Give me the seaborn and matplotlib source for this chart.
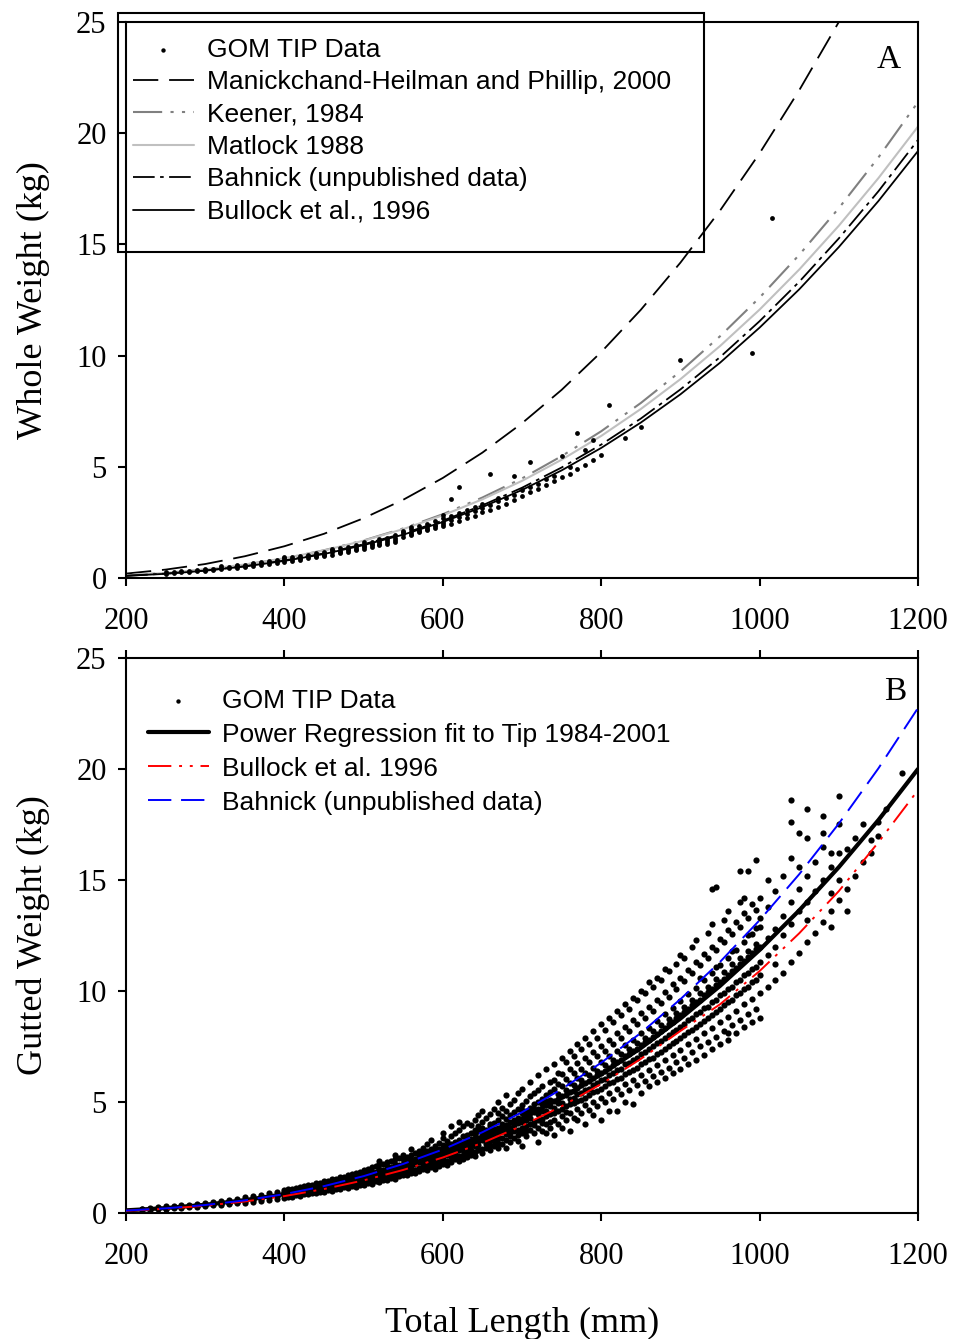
import pandas as pd
import matplotlib
matplotlib.use("Agg")
import matplotlib.pyplot as plt
from matplotlib.patches import Rectangle
import seaborn as sns

# ----------------------------- data -----------------------------

curve_len = [200, 250, 300, 350, 400, 450, 500, 550, 600, 650, 700,
             750, 800, 850, 900, 950, 1000, 1050, 1100, 1150, 1200]

# panel A : whole weight (kg)
manick_2000 = [0.20, 0.38, 0.63, 0.98, 1.43, 1.99, 2.69, 3.52, 4.50, 5.64, 6.96,
               8.46, 10.16, 12.06, 14.18, 16.52, 19.10, 21.93, 25.0, 28.4, 32.0]
keener_1984 = [0.12, 0.23, 0.38, 0.60, 0.88, 1.25, 1.69, 2.23, 2.87, 3.62, 4.48,
               5.48, 6.60, 7.87, 9.29, 10.87, 12.61, 14.53, 16.63, 18.91, 21.4]
matlock_1988 = [0.12, 0.23, 0.39, 0.61, 0.89, 1.24, 1.68, 2.20, 2.82, 3.54, 4.37,
                5.32, 6.39, 7.60, 8.94, 10.43, 12.07, 13.87, 15.84, 17.98, 20.3]
bahnick_a = [0.10, 0.20, 0.34, 0.53, 0.79, 1.11, 1.52, 2.00, 2.58, 3.27, 4.06,
             4.97, 6.00, 7.17, 8.48, 9.93, 11.55, 13.32, 15.27, 17.39, 19.7]
bullock_a = [0.10, 0.19, 0.33, 0.52, 0.77, 1.08, 1.48, 1.95, 2.52, 3.19, 3.96,
             4.84, 5.85, 6.99, 8.26, 9.68, 11.26, 12.98, 14.88, 16.95, 19.2]

# panel B : gutted weight (kg)
power_fit = [0.12, 0.22, 0.37, 0.58, 0.85, 1.20, 1.62, 2.13, 2.74, 3.44, 4.26,
             5.19, 6.25, 7.43, 8.76, 10.23, 11.85, 13.63, 15.58, 17.70, 20.0]
bullock_b = [0.10, 0.19, 0.33, 0.52, 0.76, 1.08, 1.47, 1.94, 2.50, 3.16, 3.93,
             4.81, 5.81, 6.94, 8.20, 9.40, 10.90, 12.60, 14.50, 16.70, 19.05]
bahnick_b = [0.11, 0.21, 0.36, 0.57, 0.85, 1.21, 1.66, 2.21, 2.86, 3.64, 4.54,
             5.58, 6.77, 8.11, 9.63, 11.31, 13.19, 15.26, 17.54, 20.03, 22.75]

# GOM TIP observations, panel A (length bins, weights in each bin)
tip_a_len = [250, 260, 270, 280, 290, 300, 310, 320, 330, 340, 350, 360, 370, 380, 390,
             400, 410, 420, 430, 440, 450, 460, 470, 480, 490, 500, 510, 520, 530, 540,
             550, 560, 570, 580, 590, 600, 610, 620, 630, 640, 650, 660, 670, 680, 690,
             700, 710, 720, 730, 740, 750, 760, 770, 780, 790, 800, 810, 830, 850, 900,
             990, 1015]
tip_a_wt = [[0.2, 0.25], [0.22, 0.27], [0.25, 0.3], [0.28, 0.33], [0.3, 0.36],
            [0.33, 0.38, 0.42], [0.36, 0.42], [0.4, 0.46, 0.52], [0.43, 0.5], [0.47, 0.54, 0.6],
            [0.5, 0.58, 0.55], [0.55, 0.62, 0.68], [0.6, 0.66, 0.72], [0.64, 0.7, 0.78], [0.68, 0.76, 0.83],
            [0.73, 0.8, 0.88, 0.95], [0.78, 0.86, 0.93], [0.83, 0.92, 1.0, 0.88], [0.88, 0.97, 1.05],
            [0.94, 1.03, 1.12, 0.99], [1.0, 1.1, 1.18, 1.05], [1.05, 1.15, 1.25, 1.32],
            [1.12, 1.22, 1.33, 1.18], [1.18, 1.3, 1.4, 1.25], [1.25, 1.38, 1.48, 1.32],
            [1.32, 1.45, 1.55, 1.4, 1.62], [1.4, 1.52, 1.64, 1.48], [1.48, 1.6, 1.74, 1.55, 1.68],
            [1.55, 1.7, 1.82, 1.62], [1.63, 1.78, 1.92, 1.72], [1.85, 1.98, 2.12, 2.05],
            [1.95, 2.08, 2.22, 2.0, 2.3], [2.05, 2.18, 2.32, 2.12], [2.15, 2.28, 2.45, 2.22],
            [2.25, 2.4, 2.55, 2.35], [2.35, 2.5, 2.7, 2.45, 2.85], [2.45, 2.62, 2.8, 3.55],
            [2.55, 2.75, 2.92, 4.1], [2.68, 2.88, 3.05], [2.8, 3.0, 3.2], [2.95, 3.15, 3.35],
            [3.08, 3.3, 4.7], [3.2, 3.45, 3.6], [3.35, 3.6], [3.5, 3.75, 4.6], [3.7, 3.95],
            [3.85, 4.1, 5.2], [4.0, 4.25], [4.2, 4.45], [4.35, 4.6], [4.55, 5.5], [4.7, 5.0],
            [4.9, 6.5], [5.1, 5.75], [5.3, 6.2], [5.55], [7.8], [6.3], [6.8], [9.8], [10.1], [16.2]]

# GOM TIP observations, panel B : small fish and the large tail
tip_b_len = [220, 230, 240, 250, 260, 270, 280, 290, 300, 310, 320, 330, 340, 350, 360,
             370, 380, 390, 400, 410, 420, 430, 440, 450, 460, 470, 480, 490, 500, 510,
             520, 530, 540,
             1010, 1020, 1030, 1040, 1050, 1060, 1070, 1080, 1090, 1100,
             1110, 1120, 1130, 1140, 1150, 1160, 1180]
tip_b_wt = [
    [0.12, 0.17, 0.2], [0.15, 0.19, 0.22], [0.16, 0.21, 0.26], [0.18, 0.24, 0.3, 0.2],
    [0.21, 0.26, 0.31], [0.24, 0.29, 0.34, 0.27], [0.26, 0.32, 0.37, 0.3], [0.28, 0.35, 0.4, 0.33],
    [0.3, 0.36, 0.42, 0.39, 0.47], [0.34, 0.4, 0.45, 0.5], [0.37, 0.43, 0.48, 0.55, 0.41],
    [0.4, 0.47, 0.52, 0.6, 0.45], [0.44, 0.51, 0.56, 0.64, 0.5], [0.47, 0.55, 0.6, 0.7, 0.58],
    [0.5, 0.6, 0.66, 0.75, 0.62], [0.55, 0.64, 0.71, 0.8, 0.68], [0.6, 0.7, 0.76, 0.88, 0.72],
    [0.64, 0.75, 0.82, 0.95, 0.78], [0.68, 0.8, 0.88, 1.02, 0.85, 0.93], [0.72, 0.86, 0.95, 1.1, 0.9],
    [0.78, 0.92, 1.02, 1.18, 0.97, 1.08], [0.84, 0.99, 1.1, 1.26, 1.04],
    [0.9, 1.05, 1.16, 1.35, 1.12, 1.22], [0.95, 1.1, 1.22, 1.42, 1.18, 1.3],
    [1.0, 1.18, 1.3, 1.52, 1.25, 1.4], [1.06, 1.26, 1.38, 1.62, 1.33, 1.48],
    [1.12, 1.33, 1.47, 1.7, 1.4, 1.58, 1.25], [1.18, 1.4, 1.56, 1.82, 1.5, 1.66, 1.3],
    [1.25, 1.48, 1.65, 1.92, 1.58, 1.76, 1.38], [1.32, 1.58, 1.75, 2.05, 1.68, 1.86, 1.45],
    [1.4, 1.66, 1.85, 2.2, 1.78, 1.98, 1.55, 2.35], [1.48, 1.76, 1.95, 2.3, 1.88, 2.1, 1.62],
    [1.55, 1.85, 2.06, 2.42, 1.98, 2.2, 1.7, 2.6],
    [10.2, 11.6, 12.4, 13.8, 15.0], [10.5, 12.0, 12.8, 14.5, 11.2], [10.8, 12.5, 13.4, 15.2],
    [11.3, 13.0, 14.0, 16.0, 18.6, 17.6], [11.7, 13.6, 14.6, 15.6, 17.1],
    [12.2, 14.0, 15.2, 13.2, 16.9, 18.2], [12.6, 14.5, 15.8], [13.1, 15.0, 16.5, 17.1, 17.9],
    [13.6, 15.6, 14.4, 12.9, 16.2], [14.1, 16.2, 15.0, 17.5, 18.8], [14.6, 16.4, 13.6],
    [15.2, 16.9], [15.8, 17.5], [16.2, 16.8], [17.0, 17.6], [18.2], [19.8]]

# panel B, between the 10 mm bins above
tip_b_len2 = [405, 415, 425, 435, 445, 455, 465, 475, 485, 495, 505, 515, 525, 535, 545]
tip_b_wt2 = [
    [0.74, 0.84, 0.96, 1.06], [0.8, 0.9, 1.0, 1.12], [0.86, 0.96, 1.08, 1.2],
    [0.9, 1.02, 1.14, 1.28, 0.98], [0.96, 1.1, 1.22, 1.36, 1.05], [1.02, 1.16, 1.3, 1.45, 1.1],
    [1.08, 1.24, 1.38, 1.55, 1.18], [1.15, 1.32, 1.46, 1.64, 1.24], [1.2, 1.38, 1.55, 1.74, 1.32],
    [1.28, 1.46, 1.64, 1.86, 1.4], [1.35, 1.55, 1.74, 1.98, 1.48], [1.42, 1.64, 1.85, 2.1, 1.56],
    [1.5, 1.72, 1.95, 2.22, 1.65], [1.58, 1.82, 2.05, 2.35, 1.74], [1.65, 1.92, 2.16, 2.48, 1.82]]

# panel B, the dense middle of the cloud (5 mm bins)
tip_b_len_mid = [550, 555, 560, 565, 570, 575, 580, 585, 590, 595, 600, 605, 610, 615, 620,
                 625, 630, 635, 640, 645, 650, 655, 660, 665, 670, 675, 680, 685, 690, 695,
                 700, 705, 710, 715, 720, 725, 730, 735, 740, 745, 750, 755, 760, 765, 770,
                 775, 780, 785, 790, 795, 800, 805, 810, 815, 820, 825, 830, 835, 840, 845,
                 850, 855, 860, 865, 870, 875, 880, 885, 890, 895, 900, 905, 910, 915, 920,
                 925, 930, 935, 940, 945, 950, 955, 960, 965, 970, 975, 980, 985, 990, 995, 1000]
tip_b_wt_mid = [
    [1.7, 2.0, 2.22, 1.88, 2.41, 2.1, 2.6], [1.85, 2.3, 2.05, 2.5, 1.72, 2.18],
    [2.12, 1.78, 2.38, 2.6, 2.0, 2.27, 2.9], [1.95, 2.45, 2.2, 2.72, 2.33, 1.82],
    [2.5, 2.02, 2.28, 2.8, 1.9, 2.4, 2.62], [2.15, 2.55, 1.98, 2.38, 2.95, 2.7],
    [2.3, 1.92, 2.62, 2.45, 3.1, 2.12, 2.8], [2.05, 2.7, 2.4, 2.88, 2.25, 2.58, 3.3],
    [2.5, 2.18, 2.78, 3.02, 2.35, 2.62, 1.98], [2.28, 2.9, 2.55, 3.15, 2.7, 2.1, 2.42],
    [2.45, 3.05, 2.72, 2.2, 3.4, 2.88, 2.6, 3.62], [2.62, 2.35, 3.0, 2.8, 3.25, 2.15, 2.95],
    [2.5, 3.1, 2.78, 3.48, 2.92, 2.3, 3.9], [2.7, 3.2, 2.45, 3.02, 3.6, 2.88, 2.6],
    [2.85, 3.3, 2.55, 3.12, 3.75, 2.35, 3.0, 4.1], [2.6, 3.45, 3.0, 2.82, 3.9, 3.2, 2.45],
    [3.05, 2.7, 3.5, 3.25, 2.9, 4.05, 2.5, 3.35], [2.85, 3.6, 3.15, 2.6, 3.35, 3.95, 3.05],
    [3.2, 2.75, 3.55, 3.0, 4.2, 3.4, 2.55, 3.72], [3.05, 3.7, 2.85, 3.4, 3.9, 3.25, 4.4],
    [3.3, 2.9, 3.65, 3.45, 4.1, 2.7, 3.85, 4.6], [3.1, 3.75, 3.4, 4.3, 2.95, 3.55, 3.2],
    [3.5, 3.05, 3.9, 3.3, 4.45, 3.7, 2.85, 4.0], [3.25, 4.05, 3.6, 3.0, 4.7, 3.8, 3.4],
    [3.6, 3.15, 4.2, 3.85, 3.4, 4.5, 2.95, 5.0], [3.4, 4.0, 3.7, 4.35, 3.1, 3.9, 4.75],
    [3.75, 3.3, 4.25, 3.95, 4.6, 3.55, 2.95, 5.3], [3.6, 4.4, 3.2, 4.1, 3.85, 4.9, 3.45],
    [3.95, 3.4, 4.55, 4.2, 3.7, 5.1, 4.0], [3.75, 4.3, 3.5, 4.7, 4.05, 3.25, 5.4],
    [4.1, 3.6, 4.5, 4.85, 3.85, 4.25, 5.6, 3.0, 4.65], [3.9, 4.6, 4.2, 3.45, 5.05, 4.4, 3.7],
    [4.3, 3.75, 4.75, 5.25, 4.0, 4.5, 5.9], [4.1, 4.9, 3.6, 4.55, 5.4, 3.95, 4.7],
    [4.45, 3.85, 5.0, 4.7, 5.55, 4.2, 6.2, 3.2], [4.25, 5.15, 4.6, 3.7, 4.9, 5.7, 4.05],
    [4.6, 4.0, 5.3, 4.85, 3.6, 5.05, 6.5, 4.35], [4.45, 5.45, 4.8, 4.1, 5.9, 5.1, 3.85],
    [4.75, 4.2, 5.6, 5.05, 3.5, 6.0, 4.5, 6.7], [4.6, 5.35, 4.0, 5.8, 4.95, 6.3, 5.15],
    [4.95, 4.35, 5.7, 5.25, 6.25, 3.85, 4.7, 7.0], [4.8, 5.55, 4.2, 6.05, 5.3, 6.8, 4.55],
    [5.15, 4.5, 5.85, 5.45, 3.7, 6.5, 4.9, 7.3], [4.95, 5.75, 4.3, 6.3, 5.5, 7.05, 5.2],
    [5.35, 4.7, 6.1, 5.65, 4.2, 6.75, 5.05, 7.6], [5.1, 6.0, 4.5, 6.5, 5.75, 7.4, 5.4],
    [5.55, 4.85, 6.3, 5.85, 4.0, 7.0, 5.2, 7.9], [5.3, 6.2, 4.65, 6.8, 5.95, 7.6, 5.6],
    [5.75, 5.0, 6.55, 6.1, 4.4, 7.25, 5.45, 8.2], [5.5, 6.4, 4.8, 7.05, 6.2, 7.9, 5.85],
    [6.0, 5.2, 6.8, 6.3, 4.2, 7.5, 5.6, 8.5], [5.7, 6.65, 5.0, 7.3, 6.4, 8.25, 6.05],
    [6.2, 5.4, 7.05, 6.55, 4.6, 7.8, 5.85, 8.8], [5.9, 6.9, 5.15, 7.6, 6.65, 8.6, 6.3],
    [6.45, 5.6, 7.3, 6.8, 4.6, 8.1, 6.05, 9.1], [6.1, 7.15, 5.35, 7.9, 6.9, 8.9, 6.5],
    [6.7, 5.8, 7.55, 7.05, 5.0, 8.4, 6.25, 9.4], [6.35, 7.4, 5.55, 8.2, 7.15, 9.2, 6.75],
    [6.9, 6.0, 7.8, 7.3, 4.9, 8.7, 6.45, 9.7], [6.55, 7.65, 5.75, 8.5, 7.4, 9.6, 7.0],
    [7.15, 6.2, 8.1, 7.55, 5.4, 9.0, 6.7, 10.0], [6.8, 7.9, 5.95, 8.8, 7.7, 9.9, 7.25],
    [7.4, 6.45, 8.35, 7.8, 5.7, 9.3, 6.95, 10.4], [7.0, 8.2, 6.15, 9.1, 7.95, 10.2, 7.5],
    [7.65, 6.65, 8.65, 8.05, 5.9, 9.6, 7.15, 10.6], [7.25, 8.45, 6.35, 9.45, 8.2, 10.5, 7.75],
    [7.9, 6.9, 8.95, 8.35, 6.1, 9.95, 7.4, 11.0], [7.5, 8.75, 6.55, 9.75, 8.5, 10.9, 8.0],
    [8.15, 7.1, 9.25, 8.6, 6.3, 10.3, 7.65], [7.75, 9.0, 6.8, 10.1, 8.8, 11.2, 8.25],
    [8.4, 7.35, 9.55, 8.9, 6.5, 10.6, 7.9, 11.6], [8.0, 9.3, 7.0, 10.45, 9.05, 11.5, 8.5],
    [8.7, 7.6, 9.85, 9.2, 6.7, 10.95, 8.15], [8.25, 9.6, 7.25, 10.8, 9.35, 12.0, 8.8],
    [8.95, 7.85, 10.15, 9.5, 6.9, 11.3, 8.4, 12.3], [8.5, 9.9, 7.5, 11.15, 9.6, 10.6, 9.05],
    [9.25, 8.1, 10.5, 9.8, 7.1, 11.65, 8.65], [8.8, 10.2, 7.7, 11.5, 9.95, 12.6, 9.3],
    [9.5, 8.35, 10.8, 10.1, 7.4, 12.0, 8.9, 13.0, 14.6], [9.05, 10.55, 7.95, 11.85, 10.25, 11.1, 9.6, 14.7],
    [9.8, 8.6, 11.15, 10.4, 7.6, 12.35, 9.2], [9.35, 10.85, 8.2, 12.2, 10.55, 13.2, 9.9],
    [10.1, 8.85, 11.5, 10.7, 7.8, 12.75, 9.5, 13.6, 8.1], [9.6, 11.2, 8.45, 12.55, 10.9, 11.8, 10.2],
    [10.4, 9.1, 11.85, 11.05, 8.1, 13.1, 9.8], [9.9, 11.5, 8.7, 12.9, 11.2, 14.0, 10.5, 15.4],
    [10.7, 9.4, 12.2, 11.35, 8.4, 13.5, 10.1, 14.2], [10.2, 11.8, 8.95, 13.3, 11.55, 12.5, 10.8, 15.4],
    [11.0, 9.65, 12.55, 11.7, 8.6, 13.9, 10.4], [10.5, 12.1, 9.2, 13.65, 11.9, 12.85, 11.1, 15.9],
    [11.3, 9.9, 12.9, 12.0, 8.8, 14.2, 10.7, 13.3]]

tip_a = pd.DataFrame([(L, w) for L, ws in zip(tip_a_len, tip_a_wt) for w in ws],
                     columns=["length", "weight"])
b_len = tip_b_len + tip_b_len2 + tip_b_len_mid
b_wt = tip_b_wt + tip_b_wt2 + tip_b_wt_mid
tip_b = pd.DataFrame([(L, w) for L, ws in zip(b_len, b_wt) for w in ws],
                     columns=["length", "weight"])

# ----------------------------- style -----------------------------
sns.set_theme(style="ticks")
plt.rcParams["font.family"] = ["Liberation Serif", "DejaVu Serif"]
plt.rcParams["text.color"] = "black"
plt.rcParams["axes.labelcolor"] = "black"
plt.rcParams["axes.linewidth"] = 1.5
plt.rcParams["xtick.major.width"] = 1.5
plt.rcParams["ytick.major.width"] = 1.5
plt.rcParams["xtick.major.size"] = 6
plt.rcParams["ytick.major.size"] = 6
plt.rcParams["xtick.color"] = "black"
plt.rcParams["ytick.color"] = "black"
plt.rcParams["axes.edgecolor"] = "black"

legend_font = {"family": "Liberation Sans", "size": 19}

fig = plt.figure(figsize=(9.54, 13.39), dpi=100)
ax1 = fig.add_axes([0.1321, 0.5683, 0.8302, 0.4153])
ax2 = fig.add_axes([0.1321, 0.0941, 0.8302, 0.4145])

# ----------------------------- panel A -----------------------------
sns.scatterplot(data=tip_a, x="length", y="weight", ax=ax1, color="black", s=12,
                linewidth=0, label="GOM TIP Data", zorder=3)
sns.lineplot(x=curve_len, y=manick_2000, ax=ax1, color="black", lw=1.3,
             linestyle=(0, (14, 6)), label="Manickchand-Heilman and Phillip, 2000")
sns.lineplot(x=curve_len, y=keener_1984, ax=ax1, color="#808080", lw=1.5,
             linestyle=(0, (14, 4, 1.5, 4, 1.5, 4)), label="Keener, 1984")
sns.lineplot(x=curve_len, y=matlock_1988, ax=ax1, color="#c0c0c0", lw=1.5,
             label="Matlock 1988")
sns.lineplot(x=curve_len, y=bahnick_a, ax=ax1, color="black", lw=1.3,
             linestyle=(0, (12, 3, 2, 3)), label="Bahnick (unpublished data)")
sns.lineplot(x=curve_len, y=bullock_a, ax=ax1, color="black", lw=1.3,
             label="Bullock et al., 1996")

leg1 = ax1.legend(loc="upper left", bbox_to_anchor=(0.0088, 0.972), frameon=False,
                  borderpad=0, borderaxespad=0, handlelength=2.3, handletextpad=0.5,
                  labelspacing=0.32, prop=legend_font)
leg1.legend_handles[0].set_sizes([10])
ax1.add_patch(Rectangle((-0.0101, 0.5863), 0.740, 0.430, transform=ax1.transAxes,
                        fill=False, edgecolor="black", lw=1.5, clip_on=False, zorder=5))
ax1.text(0.963, 0.932, "A", transform=ax1.transAxes, ha="center", va="center", fontsize=24)
ax1.set_ylabel("Whole Weight (kg)", fontsize=26, labelpad=19)
ax1.set_xlabel("")

# ----------------------------- panel B -----------------------------
sns.scatterplot(data=tip_b, x="length", y="weight", ax=ax2, color="black", s=20,
                linewidth=0, label="GOM TIP Data", zorder=2)
sns.lineplot(x=curve_len, y=power_fit, ax=ax2, color="black", lw=3,
             label="Power Regression fit to Tip 1984-2001", zorder=4)
sns.lineplot(x=curve_len, y=bullock_b, ax=ax2, color="red", lw=1.4,
             linestyle=(0, (12, 4, 1.5, 4, 1.5, 4)), label="Bullock et al. 1996", zorder=4)
sns.lineplot(x=curve_len, y=bahnick_b, ax=ax2, color="blue", lw=1.4,
             linestyle=(0, (12, 5)), label="Bahnick (unpublished data)", zorder=4)

leg2 = ax2.legend(loc="upper left", bbox_to_anchor=(0.0278, 0.945), frameon=False,
                  borderpad=0, borderaxespad=0, handlelength=2.3, handletextpad=0.5,
                  labelspacing=0.38, prop=legend_font)
leg2.legend_handles[0].set_sizes([10])
ax2.text(0.971, 0.939, "B", transform=ax2.transAxes, ha="center", va="center", fontsize=24)
ax2.set_ylabel("Gutted Weight (kg)", fontsize=26, labelpad=19)
ax2.set_xlabel("Total Length (mm)", fontsize=26, labelpad=26)

for ax in (ax1, ax2):
    ax.set_xlim(200, 1200)
    ax.set_ylim(0, 25)
    ax.set_xticks([200, 400, 600, 800, 1000, 1200])
    ax.set_yticks([0, 5, 10, 15, 20, 25])
    ax.tick_params(axis="both", labelsize=22, direction="out")
    ax.tick_params(axis="x", pad=15)
    ax.tick_params(axis="y", pad=8)
    for side in ax.spines.values():
        side.set_visible(True)
        side.set_linewidth(1.5)

ax2.tick_params(axis="x", top=True, labeltop=False)

fig.savefig("out.png", dpi=100)
